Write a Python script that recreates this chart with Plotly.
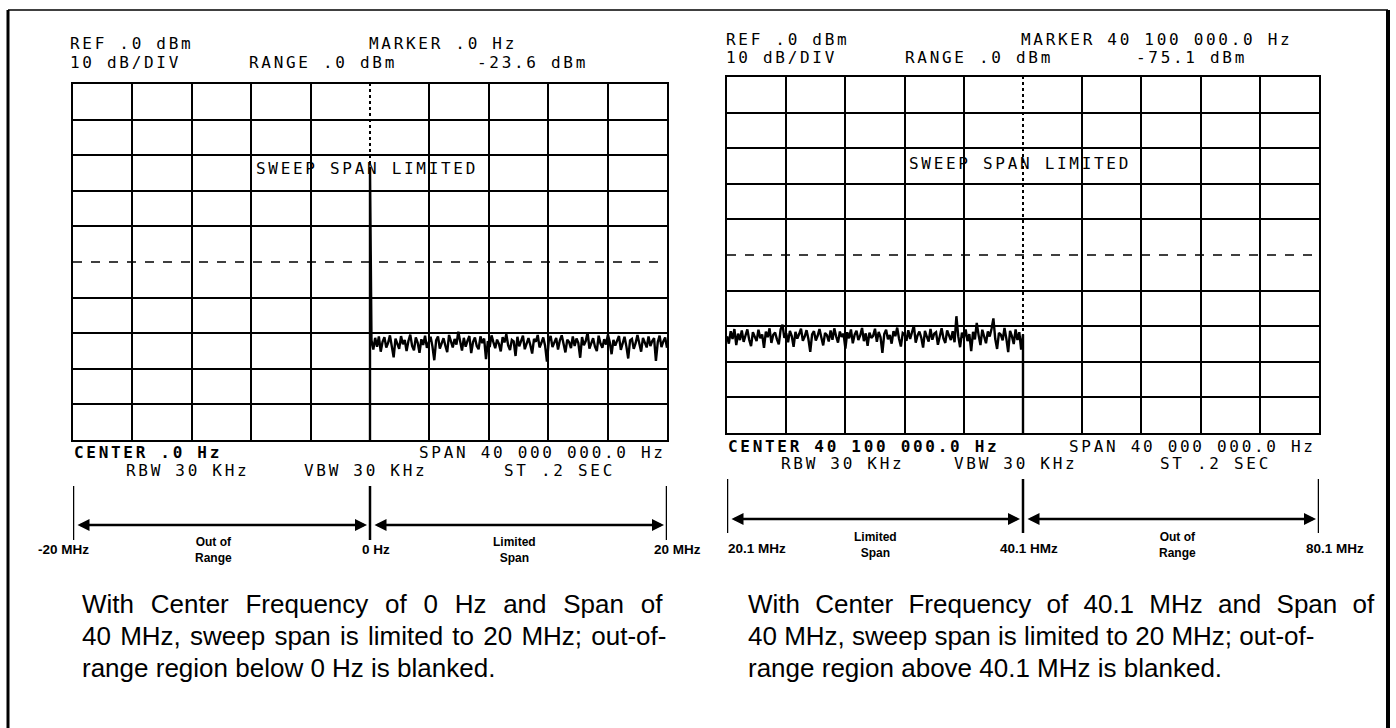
import plotly.graph_objects as go

W, H = 1396, 728

# ---------------- data ----------------
ref_level_dbm = 0.0
db_per_div = 10
n_div = 10

left_center_mhz = 0.0
left_span_mhz = 40.0
left_marker_dbm = -23.6

right_center_mhz = 40.1
right_span_mhz = 40.0

# noise floor readings, left display (0 Hz .. 20 MHz)
left_noise_dbm = [
    -72.0, -74.6, -71.3, -73.8, -70.9, -75.2, -72.4, -71.1, -74.0, -72.7,
    -70.6, -73.9, -76.8, -71.5, -72.9, -74.4, -70.8, -73.1, -71.9, -75.0,
    -72.2, -70.4, -73.6, -74.8, -71.2, -72.6, -75.5, -71.7, -73.3, -70.7,
    -74.1, -72.5, -71.0, -73.7, -77.6, -72.0, -70.9, -74.3, -72.8, -71.4,
    -73.5, -75.3, -70.5, -72.3, -74.0, -71.6, -73.2, -69.6, -72.7, -74.9,
    -71.3, -73.8, -72.1, -70.8, -75.6, -72.4, -71.2, -73.6, -74.5, -70.9,
    -72.8, -71.5, -77.3, -72.2, -73.9, -70.6, -72.5, -74.2, -71.8, -73.0,
    -75.1, -71.1, -72.6, -70.3, -73.4, -74.7, -71.9, -72.3, -76.4, -71.0,
    -73.7, -72.0, -70.7, -74.5, -72.9, -71.4, -73.3, -75.7, -71.6, -72.4,
    -70.5, -74.0, -72.7, -71.2, -73.5, -78.0, -72.1, -70.8, -73.9, -72.6,
    -71.3, -74.6, -72.0, -70.6, -73.1, -75.4, -71.8, -72.5, -74.2, -70.9,
    -73.6, -71.5, -72.8, -76.9, -71.1, -73.4, -72.2, -69.8, -74.3, -72.6,
    -71.4, -73.8, -75.0, -70.7, -72.9, -74.1, -71.7, -73.2, -70.4, -72.5,
    -75.9, -71.9, -73.5, -72.1, -70.8, -74.7, -72.4, -71.0, -73.7, -77.1,
    -72.0, -71.6, -74.4, -72.8, -70.5, -73.3, -75.2, -71.3, -72.7, -74.0,
    -70.9, -73.6, -72.2, -71.4, -77.8, -72.5, -70.7, -73.9, -72.3, -71.2,
    -74.1,
]

# noise floor readings, right display (20.1 MHz .. 40.1 MHz)
right_noise_dbm = [
    -72.8, -74.9, -71.4, -73.6, -70.8, -75.3, -72.1, -73.9, -71.2, -74.4,
    -72.6, -70.9, -73.8, -75.6, -71.7, -72.9, -74.2, -71.0, -73.4, -72.3,
    -76.1, -71.5, -73.1, -70.6, -74.7, -72.4, -71.8, -73.7, -75.1, -70.9,
    -69.6, -73.3, -72.0, -74.5, -71.3, -72.8, -75.8, -71.6, -73.5, -72.2,
    -70.7, -74.1, -72.9, -71.1, -73.6, -77.2, -72.3, -71.4, -74.0, -72.7,
    -70.8, -73.2, -75.4, -71.9, -72.5, -74.3, -71.2, -73.8, -70.6, -72.9,
    -74.6, -71.5, -73.0, -72.1, -76.3, -71.7, -73.4, -70.9, -74.8, -72.4,
    -71.3, -73.9, -72.6, -70.5, -74.2, -72.0, -75.5, -71.8, -73.3, -72.7,
    -70.7, -74.4, -71.6, -73.1, -77.5, -72.2, -71.0, -73.7, -72.5, -74.9,
    -71.4, -72.8, -70.4, -73.5, -75.7, -71.9, -72.3, -74.1, -71.1, -73.6,
    -72.0, -69.8, -74.6, -72.6, -71.5, -73.2, -76.0, -71.3, -72.9, -74.3,
    -70.8, -73.8, -72.1, -71.7, -75.2, -72.4, -70.6, -73.4, -74.7, -71.2,
    -72.7, -73.9, -71.4, -74.5, -67.2, -72.8, -75.9, -71.8, -73.3, -70.9,
    -74.2, -72.2, -77.0, -71.6, -73.7, -69.1, -72.5, -75.3, -71.0, -73.1,
    -74.8, -71.5, -72.9, -70.7, -67.8, -73.6, -76.4, -71.9, -72.4, -74.0,
    -70.5, -73.5, -77.3, -71.3, -72.8, -75.0, -70.9, -73.9, -71.7, -76.6,
    -72.3,
]

left_scale_labels = ["-20 MHz", "0 Hz", "20 MHz"]
left_region_labels = ["Out of<br>Range", "Limited<br>Span"]
right_scale_labels = ["20.1 MHz", "40.1 HMz", "80.1 MHz"]
right_region_labels = ["Limited<br>Span", "Out of<br>Range"]

left_caption = [
    "With Center Frequency of 0 Hz and Span of",
    "40 MHz, sweep span is limited to 20 MHz; out-of-",
    "range region below 0 Hz is blanked.",
]
right_caption = [
    "With Center Frequency of 40.1 MHz and Span of",
    "40 MHz, sweep span is limited to 20 MHz; out-of-",
    "range region above 40.1 MHz is blanked.",
]

# ---------------- derived trace arrays ----------------
bottom_dbm = ref_level_dbm - db_per_div * n_div

l_start = left_center_mhz
l_stop = left_center_mhz + left_span_mhz / 2
nL = len(left_noise_dbm)
left_x = [l_start, l_start] + [l_start + 0.1 + (l_stop - l_start - 0.1) * i / (nL - 1) for i in range(nL)]
left_y = [bottom_dbm, left_marker_dbm] + left_noise_dbm

r_start = right_center_mhz - right_span_mhz / 2
r_stop = right_center_mhz
nR = len(right_noise_dbm)
right_x = [r_start + (r_stop - r_start) * i / (nR - 1) for i in range(nR)] + [r_stop]
right_y = right_noise_dbm + [bottom_dbm]


def px(x):
    return x / W


def py(y):
    return 1 - y / H


# panel geometry (pixels)
LP = dict(x0=73, x1=667, y0=84, y1=440)
RP = dict(x0=727, x1=1319, y0=77, y1=433)

fig = go.Figure()
fig.add_trace(go.Scatter(x=left_x, y=left_y, mode="lines",
                         line=dict(color="black", width=2.4), xaxis="x", yaxis="y",
                         showlegend=False, hoverinfo="skip"))
fig.add_trace(go.Scatter(x=right_x, y=right_y, mode="lines",
                         line=dict(color="black", width=2.4), xaxis="x2", yaxis="y2",
                         showlegend=False, hoverinfo="skip"))


def xgrid(center, span):
    return [center - span / 2 + span * i / n_div for i in range(n_div + 1) if i != n_div // 2]


ygrid = [ref_level_dbm - db_per_div * i for i in range(n_div + 1) if i != n_div // 2]

axis_common = dict(showgrid=True, gridcolor="black", gridwidth=1.8, showline=True,
                   linecolor="black", linewidth=2, mirror=True, ticks="",
                   showticklabels=False, zeroline=False, fixedrange=True)

fig.update_layout(
    width=W, height=H, margin=dict(l=0, r=0, t=0, b=0),
    paper_bgcolor="white", plot_bgcolor="white",
    xaxis=dict(domain=[px(LP["x0"]), px(LP["x1"])],
               range=[left_center_mhz - left_span_mhz / 2, left_center_mhz + left_span_mhz / 2],
               tickvals=xgrid(left_center_mhz, left_span_mhz), anchor="y", **axis_common),
    yaxis=dict(domain=[py(LP["y1"]), py(LP["y0"])], range=[bottom_dbm, ref_level_dbm],
               tickvals=ygrid, anchor="x", **axis_common),
    xaxis2=dict(domain=[px(RP["x0"]), px(RP["x1"])],
                range=[right_center_mhz - right_span_mhz / 2, right_center_mhz + right_span_mhz / 2],
                tickvals=xgrid(right_center_mhz, right_span_mhz), anchor="y2", **axis_common),
    yaxis2=dict(domain=[py(RP["y1"]), py(RP["y0"])], range=[bottom_dbm, ref_level_dbm],
                tickvals=ygrid, anchor="x2", **axis_common),
)

shapes = []
mid_db = ref_level_dbm - db_per_div * n_div / 2
for xr, yr, c in (("x", "y", left_center_mhz), ("x2", "y2", right_center_mhz)):
    shapes.append(dict(type="line", xref=f"{xr} domain", yref=yr, x0=0, x1=1, y0=mid_db, y1=mid_db,
                       line=dict(color="black", width=1.6, dash="dash"), layer="below"))
    shapes.append(dict(type="line", xref=xr, yref=f"{yr} domain", x0=c, x1=c, y0=0, y1=1,
                       line=dict(color="black", width=2, dash="dot"), layer="below"))

# outer frame
shapes.append(dict(type="line", xref="paper", yref="paper", x0=px(8), x1=px(8), y0=0, y1=py(10),
                   line=dict(color="black", width=3)))
shapes.append(dict(type="line", xref="paper", yref="paper", x0=px(8), x1=px(1388), y0=py(10), y1=py(10),
                   line=dict(color="black", width=1.5)))
shapes.append(dict(type="line", xref="paper", yref="paper", x0=px(1388), x1=px(1388), y0=0, y1=py(10),
                   line=dict(color="black", width=4)))

annotations = []
MONO = "DejaVu Sans Mono"
SCR = 16      # screen text size
LS = 2.7      # screen letter spacing


def txt(x, y, s, size=SCR, anchor="left", family=MONO, ls=LS, bold=False, ws=None, color="black"):
    style = []
    if ls is not None:
        style.append(f"letter-spacing:{ls}px")
    if ws is not None:
        style.append(f"word-spacing:{ws}px")
    t = s
    if bold:
        t = f"<b>{t}</b>"
    if style:
        t = f'<span style="{";".join(style)}">{t}</span>'
    annotations.append(dict(x=px(x), y=py(y), xref="paper", yref="paper", text=t, showarrow=False,
                            xanchor=anchor, yanchor="middle",
                            font=dict(family=family, size=size, color=color)))


# screen text, left display
txt(68, 43, "REF .0 dBm")
txt(68, 62, "10 dB/DIV")
txt(367, 43, "MARKER .0 Hz")
txt(247, 62, "RANGE .0 dBm")
txt(475, 62, "-23.6 dBm")
txt(254, 168, "SWEEP SPAN LIMITED")
txt(72, 452, "CENTER .0 Hz", bold=True)
txt(668, 452, "SPAN 40 000 000.0 Hz", anchor="right")
txt(124, 470, "RBW 30 KHz")
txt(302, 470, "VBW 30 KHz")
txt(502, 470, "ST .2 SEC")

# screen text, right display
txt(724, 39, "REF .0 dBm")
txt(724, 58, "10 dB/DIV")
txt(1019, 39, "MARKER 40 100 000.0 Hz")
txt(903, 58, "RANGE .0 dBm")
txt(1134, 58, "-75.1 dBm")
txt(907, 163, "SWEEP SPAN LIMITED")
txt(726, 446, "CENTER 40 100 000.0 Hz", bold=True)
txt(1318, 446, "SPAN 40 000 000.0 Hz", anchor="right")
txt(779, 464, "RBW 30 KHz")
txt(952, 464, "VBW 30 KHz")
txt(1158, 464, "ST .2 SEC")

# frequency bracket diagrams
SANS = "Liberation Sans"


def bracket(xr, edges, ytop, ybot, yarrow, scale_labels, region_labels, ylab, yreg, lab_dx, reg_dx):
    for e in edges:
        shapes.append(dict(type="line", xref=xr, yref="paper", x0=e, x1=e, y0=py(ybot), y1=py(ytop),
                           line=dict(color="black", width=2.5)))
    for a, b in ((edges[0], edges[1]), (edges[1], edges[2])):
        annotations.append(dict(x=b, y=py(yarrow), xref=xr, yref="paper", ax=a, ay=0, axref=xr,
                                ayref="pixel", text="", showarrow=True, arrowhead=2, arrowsize=1,
                                arrowwidth=2.4, arrowside="end+start", arrowcolor="black",
                                standoff=3, startstandoff=3))
    for e, lab, dx in zip(edges, scale_labels, lab_dx):
        annotations.append(dict(x=e, y=py(ylab), xref=xr, yref="paper", text=f"<b>{lab}</b>",
                                showarrow=False, xshift=dx, xanchor="center", yanchor="middle",
                                font=dict(family=SANS, size=13.5, color="black")))
    for (a, b), lab, dx in zip(((edges[0], edges[1]), (edges[1], edges[2])), region_labels, reg_dx):
        annotations.append(dict(x=(a + b) / 2, y=py(yreg), xref=xr, yref="paper", text=f"<b>{lab}</b>",
                                showarrow=False, xshift=dx, xanchor="center", yanchor="middle",
                                font=dict(family=SANS, size=12, color="black")))


bracket("x", [left_center_mhz - left_span_mhz / 2, left_center_mhz, left_center_mhz + left_span_mhz / 2],
        486, 540, 525, left_scale_labels, left_region_labels, 549, 550, [-10, 6, 10], [-8, -4])
bracket("x2", [right_center_mhz - right_span_mhz / 2, right_center_mhz, right_center_mhz + right_span_mhz / 2],
        479, 533, 519, right_scale_labels, right_region_labels, 548, 545, [30, 6, 16], [0, 6])

# captions (justified paragraph lines, last line natural)
CAP = 26
left_ws = [9.5, 2, None]
right_ws = [8, None, None]
for i, line in enumerate(left_caption):
    txt(80, 604 + 32 * i, line, size=CAP, family=SANS, ls=None, ws=left_ws[i])
for i, line in enumerate(right_caption):
    txt(746, 604 + 32 * i, line, size=CAP, family=SANS, ls=None, ws=right_ws[i])

fig.update_layout(shapes=shapes, annotations=annotations)
fig.write_html("out.html", config={"displayModeBar": False},
               post_script="document.body.style.margin='0';")
